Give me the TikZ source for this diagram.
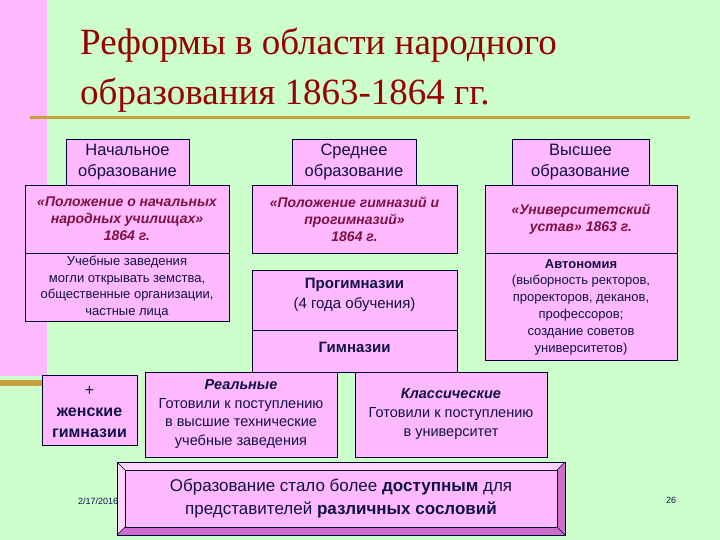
\documentclass[tikz,border=0pt]{standalone}
\usepackage{fontspec}
\setmainfont{Liberation Sans}
\newfontfamily\serif{Liberation Serif}
\begin{document}
\begin{tikzpicture}[x=1pt,y=-1pt,
  bx/.style={draw=black!80!blue,line width=0.8pt,fill=boxpink},
  txt/.style={align=center,text=navy,inner sep=0pt},
  law/.style={align=center,text=lawred,font=\fontsize{14}{17}\selectfont\bfseries\itshape,inner sep=0pt}]
\definecolor{bg}{HTML}{CCFFCC}
\definecolor{boxpink}{HTML}{FFB9FF}
\definecolor{navy}{HTML}{10104A}
\definecolor{lawred}{HTML}{801040}
\definecolor{titred}{HTML}{990000}
\definecolor{olive}{HTML}{C8A040}
\useasboundingbox (0,0) rectangle (720,540);
\fill[bg] (0,0) rectangle (720,540);
\fill[boxpink] (0,0) rectangle (47,376);
\fill[olive] (0,380) rectangle (45,386);
\fill[olive] (30,116) rectangle (690,119);
\node[anchor=west,text=titred,font=\serif\fontsize{37}{50}\selectfont,align=left,inner sep=0pt] (title) at (80,70) {Реформы в области народного\\образования 1863-1864 гг.};
% top headers
\draw[bx] (66,139) rectangle (189,185); \node[txt,font=\fontsize{16.5}{21}\selectfont] (h1) at (127.5,162) {Начальное\\образование};
\draw[bx] (292,139) rectangle (416,185); \node[txt,font=\fontsize{16.5}{21}\selectfont] (h2) at (354,162) {Среднее\\образование};
\draw[bx] (512,139) rectangle (649,185); \node[txt,font=\fontsize{16.5}{21}\selectfont] (h3) at (580.5,162) {Высшее\\образование};
% laws
\draw[bx] (25,185) rectangle (229,253); \node[law] (l1) at (127,219) {«Положение о начальных\\народных училищах»\\1864 г.};
\draw[bx] (252,185) rectangle (457,253); \node[law] (l2) at (354.5,219) {«Положение гимназий и\\прогимназий»\\1864 г.};
\draw[bx] (485,185) rectangle (677,253); \node[law] (l3) at (581,219) {«Университетский\\устав» 1863 г.};
% details
\draw[bx] (25,253) rectangle (229,321); \node[txt,font=\fontsize{13}{16.5}\selectfont] (d1) at (127,287) {Учебные заведения\\могли открывать земства,\\общественные организации,\\частные лица};
\draw[bx] (252,270) rectangle (457,330); \node[txt,font=\fontsize{15}{20}\selectfont] (pg) at (354.5,295) {\textbf{Прогимназии}\\(4 года обучения)};
\draw[bx] (252,330) rectangle (457,372); \node[txt,font=\fontsize{15}{18}\selectfont\bfseries] (gm) at (354.5,347) {Гимназии};
\draw[bx] (485,253) rectangle (677,360); \node[txt,font=\fontsize{13}{16.8}\selectfont] (d3) at (581,307) {\textbf{Автономия}\\(выборность ректоров,\\проректоров, деканов,\\профессоров;\\создание советов\\университетов)};
% bottom row
\draw[bx] (42,375) rectangle (137,445); \node[txt,font=\fontsize{16}{21}\selectfont] (zh) at (89.5,412) {+\\\textbf{женские}\\\textbf{гимназии}};
\draw[bx] (145,372) rectangle (337,457); \node[txt,font=\fontsize{14.5}{18.5}\selectfont] (re) at (241,414) {\textbf{\textit{Реальные}}\\Готовили к поступлению\\в высшие технические\\учебные заведения};
\draw[bx] (355,372) rectangle (547,457); \node[txt,font=\fontsize{14.5}{19}\selectfont] (kl) at (451,414) {\textbf{\textit{Классические}}\\Готовили к поступлению\\в университет};
% date & page
\node[text=navy,font=\fontsize{9}{10}\selectfont,anchor=west,inner sep=0pt] (date) at (78,501) {2/17/2016};
\node[text=navy,font=\fontsize{9}{10}\selectfont,inner sep=0pt] (pn) at (671,500) {26};
% bevel
\fill[boxpink!60!white] (117,462) -- (565,462) -- (557,470) -- (125,470) -- (125,527) -- (117,535) -- cycle;
\fill[boxpink!60!violet] (565,462) -- (565,535) -- (117,535) -- (125,527) -- (557,527) -- (557,470) -- cycle;
\fill[boxpink] (125,470) rectangle (557,527);
\draw[black!80!blue,line width=0.8pt] (117,462) rectangle (565,535) (125,470) rectangle (557,527);
\draw[black!80!blue,line width=0.5pt] (117,462)--(125,470) (565,462)--(557,470) (117,535)--(125,527) (565,535)--(557,527);
\node[txt,font=\fontsize{17}{23}\selectfont] (res) at (341,499) {Образование стало более \textbf{доступным} для\\представителей \textbf{различных сословий}};
\end{tikzpicture}
\end{document}
